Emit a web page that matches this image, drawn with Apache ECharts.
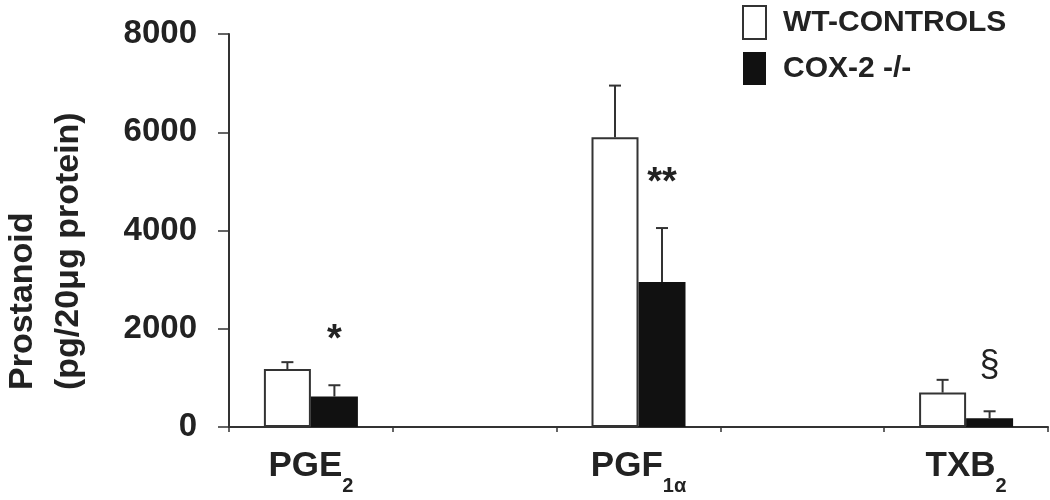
<!DOCTYPE html>
<html>
<head>
<meta charset="utf-8">
<script src="https://cdn.jsdelivr.net/npm/echarts@6/dist/echarts.min.js"></script>
<style>
  html, body { margin: 0; padding: 0; background: #fff; }
  #chart { width: 1050px; height: 500px; }
</style>
</head>
<body>
<div id="chart"></div>
<script>
// categories (empty slots keep the wide spacing between groups)
var categories = ['PGE{s|2}', '', 'PGF{s|1α}', '', 'TXB{s|2}'];
var seriesNames = ['WT-CONTROLS', 'COX-2 -/-'];
var yTicks = [0, 2000, 4000, 6000, 8000];

var wtMean = [1180, null, 5900, null, 700];
var wtErr  = [140,  null, 1050, null, 260];
var koMean = [620,  null, 2950, null, 180];
var koErr  = [230,  null, 1100, null, 140];
var sigMarks = ['*', '', '**', '', '§'];

var FONT = 'Liberation Sans, Arial, sans-serif';
var BAR_W = 47;
var INK = '#222';

function errData(mean, err) {
    var d = [];
    for (var i = 0; i < mean.length; i++) {
        if (mean[i] == null) continue;
        d.push([i, mean[i], err[i], sigMarks[i]]);
    }
    return d;
}

function errRender(side, withSig) {
    return function (params, api) {
        var i = api.value(0);
        var m = api.value(1);
        var e = api.value(2);
        var base = api.coord([i, m]);
        var top = api.coord([i, m + e]);
        var x = base[0] + side * BAR_W / 2;
        var kids = [
            { type: 'line', shape: { x1: x, y1: base[1], x2: x, y2: top[1] },
              style: { stroke: '#333', lineWidth: 2 } },
            { type: 'line', shape: { x1: x - 6, y1: top[1], x2: x + 6, y2: top[1] },
              style: { stroke: '#333', lineWidth: 2 } }
        ];
        var sig = sigMarks[i];
        if (withSig && sig) {
            kids.push({
                type: 'text',
                style: {
                    text: sig, x: x, y: top[1] - 45,
                    align: 'center', verticalAlign: 'middle',
                    font: (sig === '§' ? 'normal 36px ' : 'bold 38px ') + FONT,
                    fill: INK
                }
            });
        }
        return { type: 'group', children: kids };
    };
}

var chart = echarts.init(document.getElementById('chart'));

chart.setOption({
    animation: false,
    backgroundColor: '#fff',
    grid: { left: 229, right: 2, top: 34, bottom: 73 },
    legend: {
        orient: 'vertical',
        left: 737, top: 0,
        itemWidth: 23, itemHeight: 33, itemGap: 12,
        icon: 'rect',
        data: seriesNames,
        textStyle: { fontFamily: FONT, fontWeight: 'bold', fontSize: 30, color: INK, padding: [0, 0, 0, 12] }
    },
    graphic: [{
        type: 'text',
        x: 0, y: 390,
        rotation: Math.PI / 2,
        style: {
            text: 'Prostanoid\n(pg/20μg protein)',
            font: 'bold 34px ' + FONT,
            lineHeight: 46,
            align: 'left', verticalAlign: 'top',
            fill: INK
        }
    }],
    xAxis: {
        type: 'category',
        data: categories,
        axisLine: { lineStyle: { color: '#333', width: 2 } },
        axisTick: { show: true, interval: 0, length: 5, lineStyle: { color: '#333', width: 1.5 } },
        axisLabel: {
            interval: 0, margin: 9,
            fontFamily: FONT, fontWeight: 'bold', fontSize: 35, color: INK,
            rich: {
                s: { fontFamily: FONT, fontWeight: 'bold', fontSize: 20, color: INK,
                     verticalAlign: 'bottom', padding: [40, 0, 0, 0] }
            }
        }
    },
    yAxis: {
        type: 'value',
        min: yTicks[0], max: yTicks[yTicks.length - 1], interval: 2000,
        axisLine: { show: true, lineStyle: { color: '#333', width: 2 } },
        axisTick: { show: true, length: 11, lineStyle: { color: '#333', width: 1.5 } },
        splitLine: { show: false },
        axisLabel: {
            margin: 32, fontFamily: FONT, fontWeight: 'bold', fontSize: 33, color: INK,
            formatter: function (v) { return String(v); }
        }
    },
    series: [
        {
            name: seriesNames[0], type: 'bar', data: wtMean,
            barWidth: BAR_W, barGap: '0%',
            itemStyle: { color: '#fff', borderColor: '#333', borderWidth: 2 }
        },
        {
            name: seriesNames[1], type: 'bar', data: koMean,
            barWidth: BAR_W, barGap: '0%',
            itemStyle: { color: '#111' }
        },
        {
            type: 'custom', data: errData(wtMean, wtErr),
            renderItem: errRender(-1, false), z: 3, silent: true
        },
        {
            type: 'custom', data: errData(koMean, koErr),
            renderItem: errRender(1, true), z: 3, silent: true
        }
    ]
});
</script>
</body>
</html>
